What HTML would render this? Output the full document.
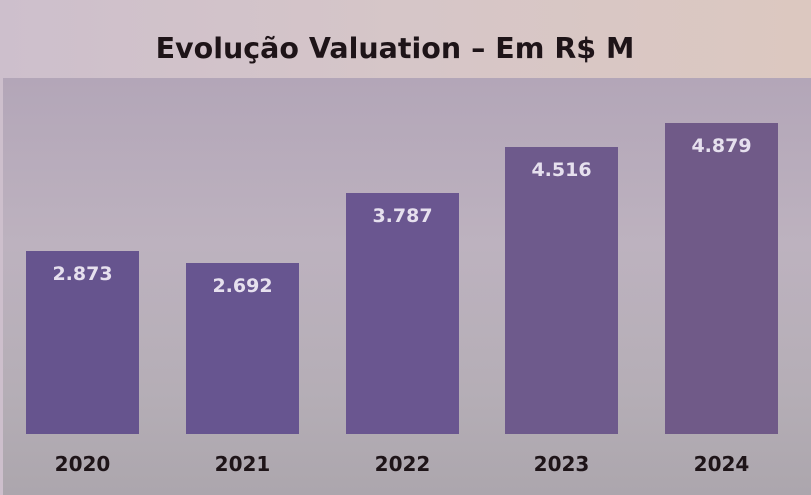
<!DOCTYPE html>
<html><head><meta charset="utf-8"><style>
body{margin:0;width:811px;height:495px;overflow:hidden;font-family:"DejaVu Sans","Liberation Sans",sans-serif;}
.bg{position:absolute;inset:0;background:linear-gradient(90deg,#cdbfcc 0%,#d6c6c8 50%,#dcc8c0 100%);}
.panel{position:absolute;left:3px;top:78px;width:808px;height:417px;background:linear-gradient(180deg,#b3a6b8 0%,#bdb2bf 40%,#b5aeb6 75%,#aca6ad 100%);}
.title{position:absolute;left:0;width:790px;top:32px;text-align:center;font-size:28.5px;font-weight:bold;color:#1e1418;}
.bar{position:absolute;width:113px;bottom:61px;background:#6a5690;}
.bar span{position:absolute;top:12px;left:0;right:0;text-align:center;color:#e6e0ee;font-weight:bold;font-size:19px;}
.yr{position:absolute;top:452px;width:113px;text-align:center;font-weight:bold;font-size:20px;color:#1e1418;}
</style></head><body>
<div class="bg"></div><div class="panel"></div>
<div class="title">Evolução Valuation – Em R$ M</div>
<div class="bar" style="left:26px;top:251px;background:#66548e"><span>2.873</span></div>
<div class="bar" style="left:186px;top:263px;background:#675590"><span>2.692</span></div>
<div class="bar" style="left:346px;top:193px;background:#6a5690"><span>3.787</span></div>
<div class="bar" style="left:505px;top:147px;background:#6e5a8c"><span>4.516</span></div>
<div class="bar" style="left:665px;top:123px;background:#705a88"><span>4.879</span></div>
<div class="yr" style="left:26px">2020</div>
<div class="yr" style="left:186px">2021</div>
<div class="yr" style="left:346px">2022</div>
<div class="yr" style="left:505px">2023</div>
<div class="yr" style="left:665px">2024</div>
</body></html>
